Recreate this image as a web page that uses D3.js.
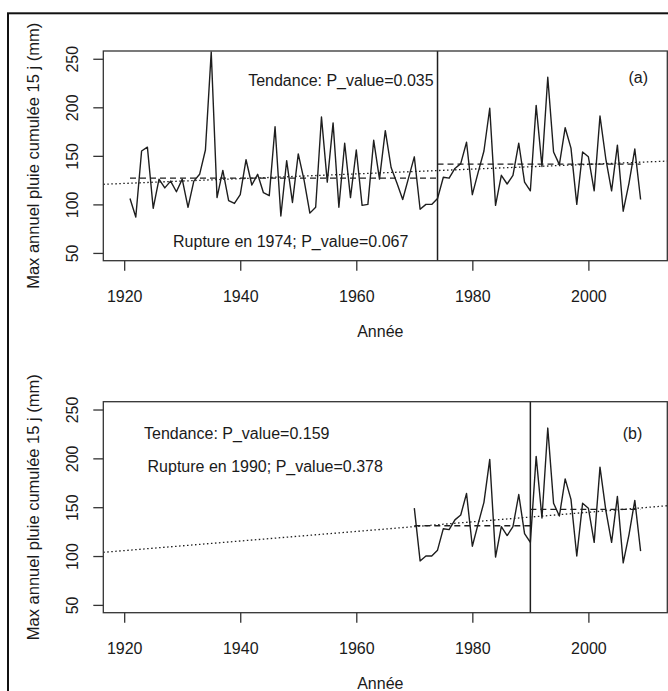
<!DOCTYPE html>
<html>
<head>
<meta charset="utf-8">
<script src="https://cdn.jsdelivr.net/npm/d3@7/dist/d3.min.js"></script>
<style>
  body { margin: 0; background: #fff; }
  text { font-family: Arial, "Liberation Sans", sans-serif; fill: #1a1a1a; }
</style>
</head>
<body>
<svg id="chart" width="668" height="691"></svg>
<script>
// annual max of 15-day cumulated rain (mm), 1921..2009
const firstYear = 1921;
const rain = [
  106, 87, 155, 159, 96, 126, 117, 124, 113, 126,
  97, 124, 131, 156, 257, 107, 135, 104, 101, 110,
  146, 120, 131, 112, 109, 180, 88, 145, 102, 152,
  125, 91, 97, 190, 123, 184, 97, 163, 107, 156,
  99, 100, 166, 126, 176, 138, 122, 105, 127, 149,
  95, 100, 100, 106, 128, 127, 137, 142, 164, 110,
  133, 155, 199, 99, 130, 121, 130, 163, 123, 114,
  202, 139, 231, 154, 141, 179, 158, 100, 154, 149,
  114, 191, 147, 114, 161, 93, 122, 157, 105
];

const yTicks = [50, 100, 150, 200, 250];
const xTicks = [1920, 1940, 1960, 1980, 2000];
const xLimits = [1916.4, 2013.6];
const yLimits = [42, 258];

// panel (a): whole series, panel (b): from 1970
const startYears = [1921, 1970];
const ruptureYears = [1974, 1990];
const trendEnds = [[120.7, 144.6], [103.8, 151.5]];   // trend value at x limits
const meansBefore = [127.1, 131];
const meansAfter = [141.5, 147.8];
const pTrend = ["0.035", "0.159"];
const pRupture = ["0.067", "0.378"];
const tags = ["(a)", "(b)"];

const svg = d3.select("#chart");
const left = 103.3, right = 667.3;
const fs = 16;

// outer frame
svg.append("rect")
  .attr("x", 8).attr("y", 13.3).attr("width", 700).attr("height", 700)
  .attr("fill", "none").attr("stroke", "#111").attr("stroke-width", 2);

const layout = [
  { top: 51, bottom: 260.7,
    labels: [
      { t: "Tendance: P_value=" + pTrend[0], x: 1957.35, y: 227.3 },
      { t: tags[0], x: 2008.6, y: 230.4 },
      { t: "Rupture en " + ruptureYears[0] + "; P_value=" + pRupture[0], x: 1948.7, y: 61.7 }
    ] },
  { top: 401.7, bottom: 612.7,
    labels: [
      { t: "Tendance: P_value=" + pTrend[1], x: 1939.4, y: 225.9 },
      { t: tags[1], x: 2007.6, y: 225.4 },
      { t: "Rupture en " + ruptureYears[1] + "; P_value=" + pRupture[1], x: 1944.3, y: 192.2 }
    ] }
];

const series = rain.map((v, i) => ({ year: firstYear + i, v: v }));

layout.forEach((p, k) => {
  const x = d3.scaleLinear().domain(xLimits).range([left, right]);
  const y = d3.scaleLinear().domain(yLimits).range([p.bottom, p.top]);
  const g = svg.append("g");

  g.append("clipPath").attr("id", "clip" + k)
    .append("rect").attr("x", left).attr("y", p.top)
    .attr("width", right - left).attr("height", p.bottom - p.top);

  const plot = g.append("g").attr("clip-path", "url(#clip" + k + ")");

  const data = series.filter(d => d.year >= startYears[k]);
  const line = d3.line().x(d => x(d.year)).y(d => y(d.v));

  plot.append("path").datum(data)
    .attr("d", line)
    .attr("fill", "none").attr("stroke", "#1e1e1e").attr("stroke-width", 1.4)
    .attr("stroke-linejoin", "round");

  // trend line (dotted)
  plot.append("line")
    .attr("x1", x(xLimits[0])).attr("y1", y(trendEnds[k][0]))
    .attr("x2", x(xLimits[1])).attr("y2", y(trendEnds[k][1]))
    .attr("stroke", "#1e1e1e").attr("stroke-width", 1.3)
    .attr("stroke-dasharray", "1.5,2.5");

  // segment means (dashed)
  const lastYear = firstYear + rain.length - 1;
  [[startYears[k], ruptureYears[k], meansBefore[k]],
   [ruptureYears[k], lastYear, meansAfter[k]]].forEach(s => {
    plot.append("line")
      .attr("x1", x(s[0])).attr("x2", x(s[1]))
      .attr("y1", y(s[2])).attr("y2", y(s[2]))
      .attr("stroke", "#1e1e1e").attr("stroke-width", 1.3)
      .attr("stroke-dasharray", "6,4");
  });

  // rupture
  g.append("line")
    .attr("x1", x(ruptureYears[k])).attr("x2", x(ruptureYears[k]))
    .attr("y1", p.top).attr("y2", p.bottom)
    .attr("stroke", "#1e1e1e").attr("stroke-width", 1.5);

  // box
  g.append("rect")
    .attr("x", left).attr("y", p.top)
    .attr("width", right - left).attr("height", p.bottom - p.top)
    .attr("fill", "none").attr("stroke", "#333").attr("stroke-width", 1.3);

  // axes
  const xAxis = d3.axisBottom(x).tickValues(xTicks).tickFormat(d3.format("d"))
    .tickSize(10).tickSizeOuter(0).tickPadding(20);
  const ax = g.append("g").attr("transform", `translate(0,${p.bottom})`).call(xAxis);
  ax.select(".domain").remove();
  ax.selectAll("line").attr("stroke", "#333").attr("stroke-width", 1.3);
  ax.selectAll("text").attr("font-size", fs).attr("fill", "#1a1a1a")
    .attr("font-family", "Arial, 'Liberation Sans', sans-serif");

  const yAxis = d3.axisLeft(y).tickValues(yTicks).tickSize(10).tickSizeOuter(0);
  const ay = g.append("g").attr("transform", `translate(${left},0)`).call(yAxis);
  ay.select(".domain").remove();
  ay.selectAll("line").attr("stroke", "#333").attr("stroke-width", 1.3);
  ay.selectAll("text").remove();
  ay.selectAll(".tick").append("text")
    .attr("transform", "translate(-31,0) rotate(-90)")
    .attr("text-anchor", "middle").attr("dy", "0.35em")
    .attr("font-size", fs)
    .text(d => d);

  // titles
  g.append("text")
    .attr("x", (left + right) / 2 - 5).attr("y", p.bottom + 71)
    .attr("text-anchor", "middle").attr("dy", "0.35em")
    .attr("font-size", fs).text("Année");

  g.append("text")
    .attr("transform", `translate(33.5,${(p.top + p.bottom) / 2}) rotate(-90)`)
    .attr("text-anchor", "middle").attr("dy", "0.35em")
    .attr("font-size", 16.5).text("Max annuel pluie cumulée 15 j (mm)");

  p.labels.forEach(l => {
    g.append("text")
      .attr("x", x(l.x)).attr("y", y(l.y))
      .attr("text-anchor", "middle").attr("dy", "0.35em")
      .attr("font-size", fs).text(l.t);
  });
});
</script>
</body>
</html>
